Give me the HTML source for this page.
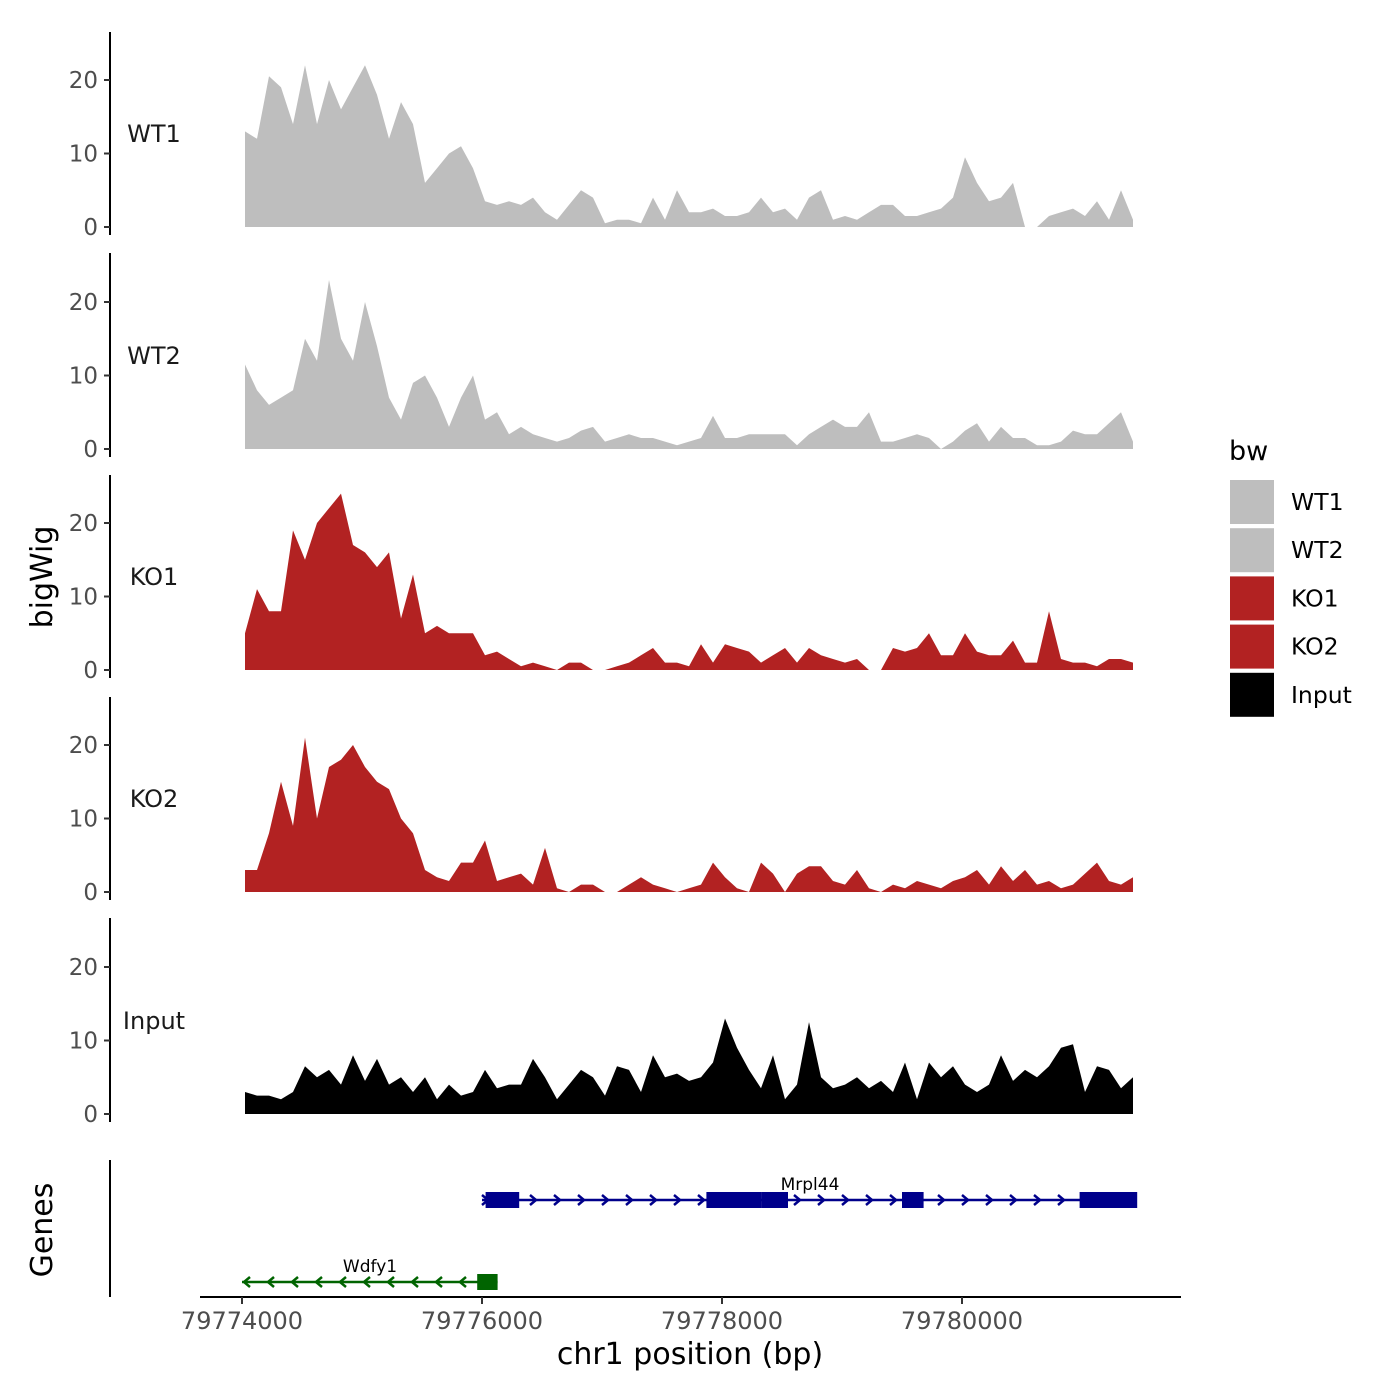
<!DOCTYPE html>
<html><head><meta charset="utf-8"><style>
body{margin:0;background:#fff;}
svg{display:block;font-family:"DejaVu Sans","Liberation Sans",sans-serif;}
</style></head><body>
<svg id="chart" width="1400" height="1400" viewBox="0 0 1400 1400"></svg>
<script>
const trackNames = ["WT1","WT2","KO1","KO2","Input"];
const trackColors = ["#bebebe","#bebebe","#b22222","#b22222","#000000"];
const yTicks = [0,10,20];
const xTicks = [79774000,79776000,79778000,79780000];
const posStart = 79774025, posStep = 100;
const wt1 = [13,12,20.5,19,14,22,14,20,16,19,22,18,12,17,14,6,8,10,11,8,3.5,3,3.5,3,4,2,1,3,5,4,0.5,1,1,0.5,4,1,5,2,2,2.5,1.5,1.5,2,4,2,2.5,1,4,5,1,1.5,1,2,3,3,1.5,1.5,2,2.5,4,9.5,6,3.5,4,6,0,0,1.5,2,2.5,1.5,3.5,1,5,1];
const wt2 = [11.5,8,6,7,8,15,12,23,15,12,20,14,7,4,9,10,7,3,7,10,4,5,2,3,2,1.5,1,1.5,2.5,3,1,1.5,2,1.5,1.5,1,0.5,1,1.5,4.5,1.5,1.5,2,2,2,2,0.5,2,3,4,3,3,5,1,1,1.5,2,1.5,0,1,2.5,3.5,1,3,1.5,1.5,0.5,0.5,1,2.5,2,2,3.5,5,1];
const ko1 = [5,11,8,8,19,15,20,22,24,17,16,14,16,7,13,5,6,5,5,5,2,2.5,1.5,0.5,1,0.5,0,1,1,0,0,0.5,1,2,3,1,1,0.5,3.5,1,3.5,3,2.5,1,2,3,1,3,2,1.5,1,1.5,0,0,3,2.5,3,5,2,2,5,2.5,2,2,4,1,1,8,1.5,1,1,0.5,1.5,1.5,1];
const ko2 = [3,3,8,15,9,21,10,17,18,20,17,15,14,10,8,3,2,1.5,4,4,7,1.5,2,2.5,1,6,0.5,0,1,1,0,0,1,2,1,0.5,0,0.5,1,4,2,0.5,0,4,2.5,0,2.5,3.5,3.5,1.5,1,3,0.5,0,1,0.5,1.5,1,0.5,1.5,2,3,1,3.5,1.5,3,1,1.5,0.5,1,2.5,4,1.5,1,2];
const input = [3,2.5,2.5,2,3,6.5,5,6,4,8,4.5,7.5,4,5,3,5,2,4,2.5,3,6,3.5,4,4,7.5,5,2,4,6,5,2.5,6.5,6,3,8,5,5.5,4.5,5,7,13,9,6,3.5,8,2,4,12.5,5,3.5,4,5,3.5,4.5,3,7,2,7,5,6.5,4,3,4,8,4.5,6,5,6.5,9,9.5,3,6.5,6,3.5,5];
const series = [wt1,wt2,ko1,ko2,input];
const geneNames = ["Mrpl44","Wdfy1"];
const geneStarts = [79776000,79774000];
const geneEnds = [79781800,79776130];
const geneStrands = ["+","-"];
const exonStarts = [[79776030,79777870,79778330,79779500,79780980],[79775960]];
const exonEnds = [[79776310,79778330,79778550,79779680,79781460],[79776130]];

const NS="http://www.w3.org/2000/svg";
const svg=document.getElementById('chart');
function el(t,a,p){const e=document.createElementNS(NS,t);for(const k in a)e.setAttribute(k,a[k]);(p||svg).appendChild(e);return e;}
const xs = v => 242 + (v-79774000)*0.12;
const zeroY=[227,449,670,892,1114];
const ys = (i,v) => zeroY[i] - v*7.35;
const axTop=[32,253,475,697,918];

series.forEach((s,i)=>{
  const g=el('g',{});
  
  
  let d='M'+xs(posStart)+','+zeroY[i];
  s.forEach((v,j)=>{d+=' L'+xs(posStart+j*posStep).toFixed(1)+','+ys(i,v).toFixed(1);});
  d+=' L'+xs(posStart+(s.length-1)*posStep)+','+zeroY[i]+' Z';
  const p=el('path',{d:d,fill:trackColors[i]},g);
  
  
  const ax=el('line',{x1:110,x2:110,y1:axTop[i],y2:zeroY[i]+8,stroke:'#000','stroke-width':2},g);
  
  
  yTicks.forEach(t=>{
    el('line',{x1:104,x2:110,y1:ys(i,t),y2:ys(i,t),stroke:'#333','stroke-width':2},g);
    const tx=el('text',{x:98,y:ys(i,t)+8,'text-anchor':'end','font-size':23,fill:'#4d4d4d'},g);
    tx.textContent=t;
    
    
  });
  const lb=el('text',{x:154,y:zeroY[i]-85,'text-anchor':'middle','font-size':24,fill:'#1a1a1a'},g);
  lb.textContent=trackNames[i];
  
  
});

const gp=el('g',{});


el('line',{x1:110,x2:110,y1:1160,y2:1297,stroke:'#000','stroke-width':2},gp);
const geneY=[1200,1282], geneCol=['#00008b','#006400'];
geneNames.forEach((n,i)=>{
  const g=el('g',{},gp);
  
  
  const y=geneY[i],c=geneCol[i];
  const x1=xs(geneStarts[i]),x2=Math.min(xs(geneEnds[i]),1137);
  el('line',{x1:x1,x2:x2,y1:y,y2:y,stroke:c,'stroke-width':2.5},g);
  for(let x=x1+4;x<x2-4;x+=24){
    const d=geneStrands[i]==='+'?`M${x-4},${y-5} L${x+2},${y} L${x-4},${y+5}`:`M${x+4},${y-5} L${x-2},${y} L${x+4},${y+5}`;
    el('path',{d:d,stroke:c,'stroke-width':2.5,fill:'none'},g);
  }
  exonStarts[i].forEach((s,k)=>{
    const r=el('rect',{x:xs(s),y:y-8,width:xs(exonEnds[i][k])-xs(s),height:16,fill:c},g);
    
    
  });
  const t=el('text',{x:i===0?810:370,y:y-10,'text-anchor':'middle','font-size':17,fill:'#000'},g);
  t.textContent=n;
});
const gl=el('text',{x:52,y:1230,'text-anchor':'middle','font-size':30,transform:'rotate(-90 52 1230)'});
gl.textContent='Genes';



const xa=el('g',{});


el('line',{x1:200,x2:1181,y1:1297,y2:1297,stroke:'#000','stroke-width':2},xa);
xTicks.forEach(t=>{
  el('line',{x1:xs(t),x2:xs(t),y1:1297,y2:1304,stroke:'#333','stroke-width':2},xa);
  const tx=el('text',{x:xs(t),y:1329,'text-anchor':'middle','font-size':24,fill:'#4d4d4d'},xa);
  tx.textContent=t;
});
const xt=el('text',{x:690,y:1364,'text-anchor':'middle','font-size':30});
xt.textContent='chr1 position (bp)';


const yt=el('text',{x:52,y:577,'text-anchor':'middle','font-size':30,transform:'rotate(-90 52 577)'});
yt.textContent='bigWig';



const lg=el('g',{});


const lt=el('text',{x:1229,y:460,'font-size':27},lg);
lt.textContent='bw';
trackNames.forEach((n,i)=>{
  const e=el('g',{},lg);
  
  
  el('rect',{x:1230,y:480+i*48.2,width:44,height:44,fill:trackColors[i]},e);
  const t=el('text',{x:1291,y:510+i*48.2,'font-size':23.5},e);
  t.textContent=n;
});
</script>
</body></html>
